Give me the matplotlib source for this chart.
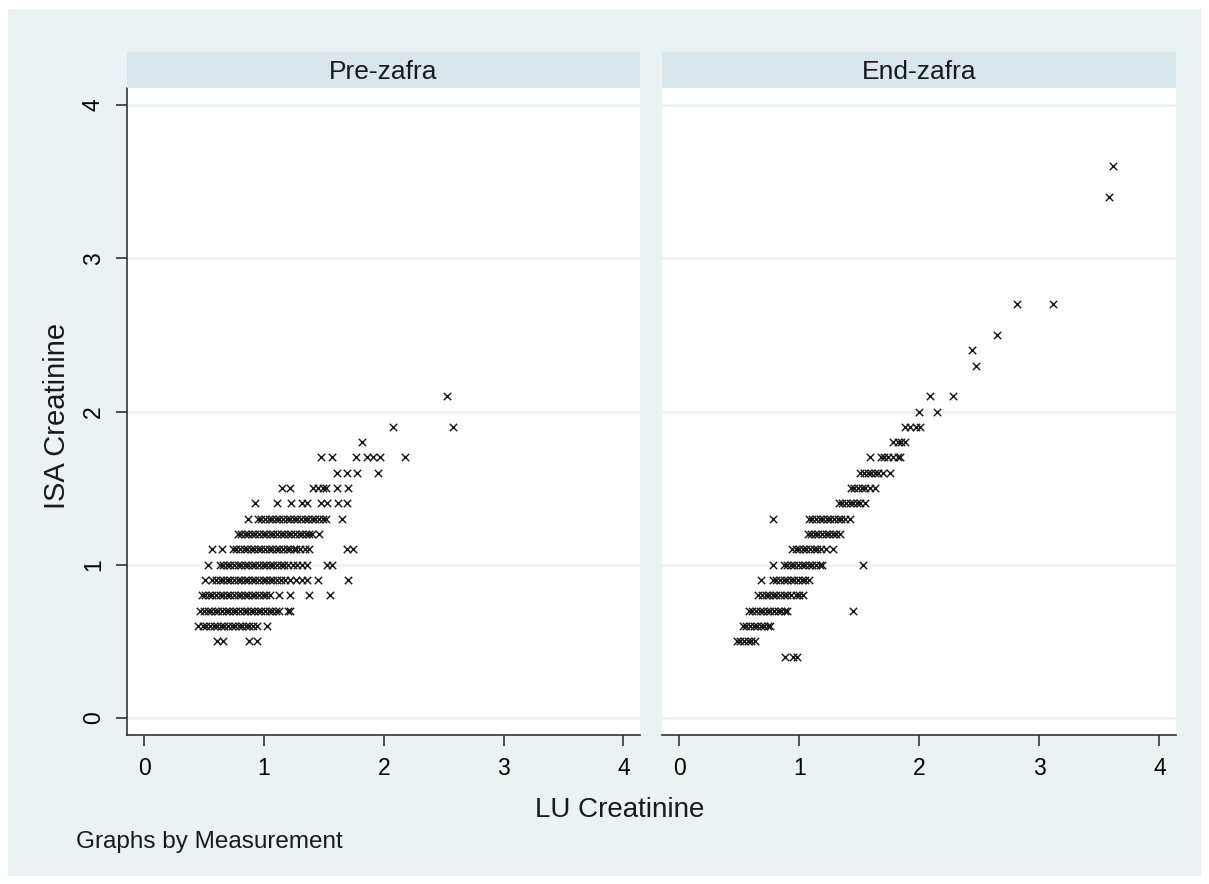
"""
Two-panel Stata-style scatter: ISA vs LU creatinine by measurement.
"""

import matplotlib

matplotlib.use("Agg")
import matplotlib.pyplot as plt
from matplotlib.patches import Rectangle

plt.rcParams["font.family"] = ["Liberation Sans", "DejaVu Sans"]

BG = "#eaf2f3"
STRIP = "#d9e6eb"
INK = "#1a1a1a"

panel_titles = ["Pre-zafra", "End-zafra"]
x_ticks = [0, 1, 2, 3, 4]
y_ticks = [0, 1, 2, 3, 4]

# ISA creatinine levels (rows) and the LU creatinine values seen on each row
pre_isa = [0.5, 0.6, 0.7, 0.8, 0.9, 1.0, 1.1, 1.2, 1.3, 1.4, 1.5, 1.6, 1.7, 1.8, 1.9, 2.1]
pre_lu = [
    [0.61, 0.66, 0.88, 0.94],
    [0.45, 0.49, 0.52, 0.55, 0.58, 0.61, 0.64, 0.67, 0.70, 0.73, 0.76, 0.79, 0.82, 0.85,
     0.88, 0.91, 0.94, 1.03],
    [0.47, 0.50, 0.53, 0.56, 0.59, 0.62, 0.65, 0.68, 0.71, 0.74, 0.77, 0.80, 0.83, 0.86,
     0.89, 0.92, 0.95, 0.98, 1.01, 1.04, 1.07, 1.10, 1.13, 1.20, 1.22],
    [0.48, 0.51, 0.54, 0.57, 0.60, 0.63, 0.66, 0.69, 0.72, 0.75, 0.78, 0.81, 0.84, 0.87,
     0.90, 0.93, 0.96, 0.99, 1.02, 1.05, 1.13, 1.22, 1.38, 1.55],
    [0.51, 0.57, 0.60, 0.63, 0.66, 0.69, 0.72, 0.75, 0.78, 0.81, 0.84, 0.87, 0.90, 0.93,
     0.96, 0.99, 1.02, 1.05, 1.08, 1.11, 1.14, 1.18, 1.22, 1.27, 1.32, 1.36, 1.45, 1.70],
    [0.53, 0.63, 0.66, 0.69, 0.72, 0.75, 0.78, 0.81, 0.84, 0.87, 0.90, 0.93, 0.96, 0.99,
     1.02, 1.05, 1.08, 1.11, 1.14, 1.17, 1.20, 1.24, 1.28, 1.32, 1.36, 1.53, 1.57],
    [0.57, 0.65, 0.74, 0.77, 0.80, 0.83, 0.86, 0.89, 0.92, 0.95, 0.98, 1.01, 1.04, 1.07,
     1.10, 1.13, 1.16, 1.19, 1.22, 1.25, 1.27, 1.30, 1.34, 1.38, 1.69, 1.74],
    [0.78, 0.81, 0.84, 0.87, 0.90, 0.93, 0.96, 0.99, 1.02, 1.05, 1.08, 1.11, 1.14, 1.17,
     1.20, 1.23, 1.26, 1.29, 1.32, 1.35, 1.38, 1.40, 1.46],
    [0.87, 0.95, 0.98, 1.01, 1.04, 1.07, 1.10, 1.13, 1.16, 1.19, 1.22, 1.25, 1.28, 1.31,
     1.34, 1.37, 1.40, 1.43, 1.46, 1.49, 1.52, 1.65],
    [0.93, 1.11, 1.23, 1.32, 1.36, 1.48, 1.53, 1.62, 1.69],
    [1.15, 1.22, 1.41, 1.45, 1.49, 1.52, 1.61, 1.70],
    [1.61, 1.69, 1.78, 1.95],
    [1.48, 1.57, 1.77, 1.86, 1.91, 1.97, 2.18],
    [1.82],
    [2.08, 2.58],
    [2.53],
]

end_isa = [0.4, 0.5, 0.6, 0.7, 0.8, 0.9, 1.0, 1.1, 1.2, 1.3, 1.4, 1.5, 1.6, 1.7, 1.8, 1.9,
           2.0, 2.1, 2.3, 2.4, 2.5, 2.7, 3.4, 3.6]
end_lu = [
    [0.88, 0.95, 0.98],
    [0.48, 0.51, 0.54, 0.57, 0.60, 0.63],
    [0.53, 0.56, 0.59, 0.62, 0.65, 0.68, 0.71, 0.74, 0.76],
    [0.58, 0.61, 0.64, 0.67, 0.70, 0.73, 0.76, 0.79, 0.82, 0.85, 0.88, 0.90, 1.45],
    [0.66, 0.69, 0.72, 0.75, 0.78, 0.81, 0.84, 0.87, 0.90, 0.93, 0.97, 1.00, 1.03],
    [0.68, 0.78, 0.81, 0.84, 0.87, 0.90, 0.93, 0.96, 0.99, 1.02, 1.05, 1.08],
    [0.78, 0.87, 0.90, 0.93, 0.96, 0.99, 1.02, 1.05, 1.08, 1.11, 1.14, 1.17, 1.19, 1.53],
    [0.94, 0.97, 1.00, 1.03, 1.06, 1.09, 1.12, 1.15, 1.18, 1.22, 1.28],
    [1.07, 1.10, 1.13, 1.16, 1.19, 1.22, 1.25, 1.28, 1.31, 1.34],
    [0.78, 1.08, 1.11, 1.14, 1.17, 1.20, 1.23, 1.26, 1.29, 1.32, 1.35, 1.38, 1.42],
    [1.33, 1.36, 1.39, 1.42, 1.45, 1.48, 1.51, 1.55],
    [1.43, 1.46, 1.49, 1.52, 1.55, 1.59, 1.63],
    [1.51, 1.54, 1.57, 1.60, 1.63, 1.66, 1.70, 1.76],
    [1.59, 1.68, 1.71, 1.74, 1.78, 1.82, 1.84],
    [1.78, 1.82, 1.85, 1.88],
    [1.88, 1.92, 1.97, 2.01],
    [2.00, 2.15],
    [2.09, 2.28],
    [2.47],
    [2.44],
    [2.65],
    [2.81, 3.11],
    [3.58],
    [3.61],
]


def flatten(levels, rows):
    xs, ys = [], []
    for level, row in zip(levels, rows):
        xs.extend(row)
        ys.extend([level] * len(row))
    return xs, ys


def draw_panel(fig, rect, title, levels, rows, show_y):
    ax = fig.add_axes(rect)
    ax.set_facecolor("white")
    for side in ["top", "right"]:
        ax.spines[side].set_visible(False)
    ax.spines["left"].set_visible(show_y)
    ax.spines["bottom"].set_color("#333333")
    ax.spines["left"].set_color("#333333")
    ax.spines["bottom"].set_linewidth(1.2)
    ax.spines["left"].set_linewidth(1.2)

    for y in y_ticks:
        ax.axhline(y, color=BG, lw=1.8, zorder=0)

    x, y = flatten(levels, rows)
    ax.scatter(x, y, marker="x", s=28, linewidths=1.05, color=INK, zorder=3)

    ax.set_xlim(-0.142, 4.138)
    ax.set_ylim(-0.111, 4.111)
    ax.set_xticks(x_ticks)
    ax.set_xticklabels([str(t) for t in x_ticks], fontsize=16.5)
    ax.tick_params(axis="x", length=8, width=1.2, color="#333333", pad=8)
    if show_y:
        ax.set_yticks(y_ticks)
        ax.set_yticklabels([str(t) for t in y_ticks], fontsize=16.5, rotation=90, va="center")
        ax.tick_params(axis="y", length=8, width=1.2, color="#333333", pad=8)
    else:
        ax.set_yticks([])

    # header strip
    x0, y0, w, h = rect
    strip = fig.add_axes([x0, y0 + h, w, 36 / 884])
    strip.set_facecolor(STRIP)
    strip.set_xticks([])
    strip.set_yticks([])
    for s in strip.spines.values():
        s.set_visible(False)
    strip.text(0.5, 0.45, title, ha="center", va="center", fontsize=19, color=INK,
               transform=strip.transAxes)
    return ax


def main():
    fig = plt.figure(figsize=(12.09, 8.84), dpi=100)
    fig.patch.set_facecolor("white")
    fig.patches.append(Rectangle((8 / 1209, 8 / 884), 1193 / 1209, 867 / 884,
                                 transform=fig.transFigure, facecolor=BG,
                                 edgecolor="none", zorder=-10))

    bottom = (884 - 735) / 884
    height = 647 / 884
    draw_panel(fig, [127 / 1209, bottom, 513 / 1209, height], panel_titles[0],
               pre_isa, pre_lu, True)
    draw_panel(fig, [662 / 1209, bottom, 514 / 1209, height], panel_titles[1],
               end_isa, end_lu, False)

    fig.text(535 / 1209, 1 - 817 / 884, "LU Creatinine", ha="left", va="baseline",
             fontsize=20, color=INK)
    fig.text(57 / 1209, 1 - 416 / 884, "ISA Creatinine", ha="center", va="center",
             fontsize=21, rotation=90, color=INK)
    fig.text(76 / 1209, 1 - 848 / 884, "Graphs by Measurement", ha="left", va="baseline",
             fontsize=17.5, color=INK)

    fig.savefig("out.png", dpi=100, facecolor=fig.get_facecolor())


if __name__ == "__main__":
    main()
